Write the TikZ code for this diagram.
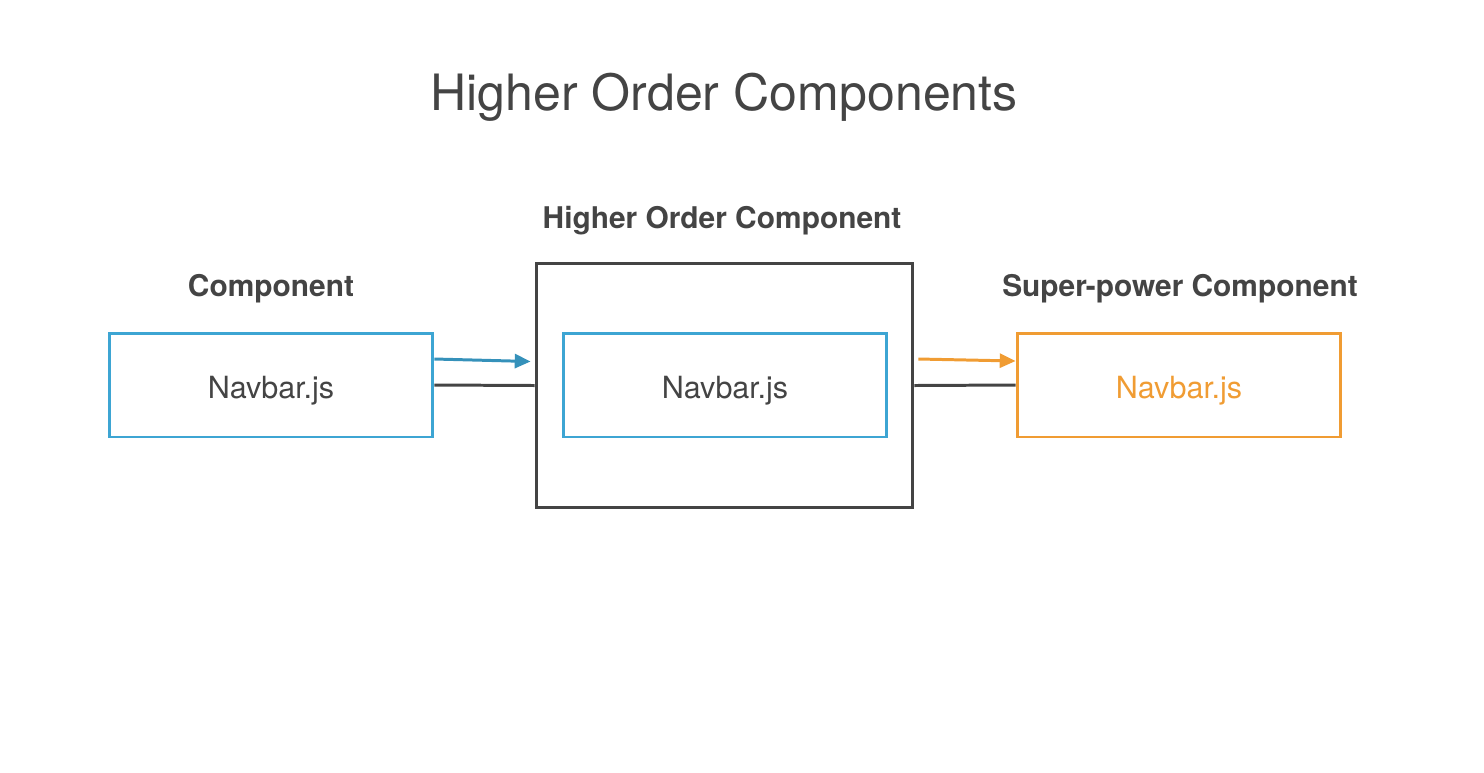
\documentclass[tikz,border=0pt]{standalone}
\usepackage{fontspec}
\setmainfont{TeX Gyre Heros}
\usetikzlibrary{arrows.meta}
\definecolor{hocblue}{HTML}{3DA5D3}
\definecolor{hocarrow}{HTML}{3591BA}
\definecolor{hocorange}{HTML}{F09C33}
\definecolor{hocgray}{HTML}{444444}
\begin{document}
\begin{tikzpicture}[x=0.02cm,y=-0.02cm,
  box/.style = {draw, line width=1.7pt, minimum width=6.48cm, minimum height=2.08cm, inner sep=0pt, text depth=0pt, font=\fontsize{17.4}{20}\selectfont, text=hocgray},
  label/.style = {font=\bfseries\fontsize{17}{20}\selectfont, text=hocgray},
  link/.style = {line width=1.7pt, hocgray},
  feed/.style = {line width=1.7pt, -{Triangle[length=9pt,width=8pt]}}]
\useasboundingbox (0,0) rectangle (1484,772);
\node[font=\fontsize{28.5}{34}\selectfont, text=hocgray] (title) at (724,97) {Higher Order Components};
% boxes
\node[box, draw=hocblue] (comp) at (271,385) {\raisebox{-0.1cm}{Navbar.js}};
\node[draw=hocgray, line width=1.7pt, minimum width=7.54cm, minimum height=4.9cm, inner sep=0pt] (hoc) at (724.5,385.5) {};
\node[box, draw=hocblue] (inner) at (725,385) {\raisebox{-0.1cm}{Navbar.js}};
\node[box, draw=hocorange, text=hocorange] (super) at (1179,385) {\raisebox{-0.1cm}{Navbar.js}};
% labels
\node[label] (compl) at (271,288.5) {Component};
\node[label] (hocl) at (722,220.5) {Higher Order Component};
\node[label] (superl) at (1180,288.5) {Super-power Component};
% connectors
\draw[link] (comp.east) -- (hoc.west);
\draw[link] (hoc.east) -- (super.west);
\draw[feed, hocarrow] ([yshift=0.52cm]comp.east) -- ([xshift=-0.08cm, yshift=0.48cm]hoc.west);
\draw[feed, hocorange] ([xshift=0.08cm, yshift=0.53cm]hoc.east) -- ([yshift=0.48cm]super.west);
\end{tikzpicture}
\end{document}
